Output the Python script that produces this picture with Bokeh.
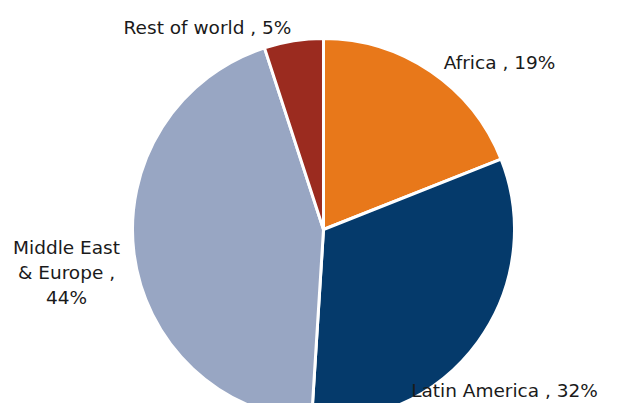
import math
from bokeh.plotting import figure
from bokeh.models import ColumnDataSource, Range1d
from bokeh.core.properties import value
from bokeh.embed import file_html
from bokeh.resources import INLINE

regions = ["Africa", "Latin America", "Middle East & Europe", "Rest of world"]
shares = [19, 32, 44, 5]
colors = ["#E8781A", "#053A6B", "#98A6C3", "#9B2B1F"]
label_texts = ["Africa , 19%", "Latin America , 32%", "Middle East\n& Europe ,\n44%", "Rest of world , 5%"]

W, H = 603, 403
cx, cy, r = 323, H - 229, 191

total = sum(shares)
starts, ends = [], []
a = math.pi / 2
for s in shares:
    e = a - 2 * math.pi * s / total
    starts.append(e)
    ends.append(a)
    a = e

src = ColumnDataSource(dict(region=regions, start=starts, end=ends, color=colors))

p = figure(width=W, height=H, output_backend="svg", toolbar_location=None,
           x_range=Range1d(0, W), y_range=Range1d(0, H), min_border=0)
p.axis.visible = False
p.grid.visible = False
p.outline_line_color = None
p.background_fill_color = "white"

p.wedge(x=cx, y=cy, radius=r, start_angle="start", end_angle="end",
        fill_color="color", line_color="white", line_width=3, source=src)

# label positions (figure pixels, y from bottom)
lx = [499, 504, 66, 207]
ly = [H - 62, H - 390, H - 272, H - 27]
lsrc = ColumnDataSource(dict(x=lx, y=ly, t=label_texts))
p.text(x="x", y="y", text="t", text_align="center", text_baseline="middle",
       text_font=value("DejaVu Sans"), text_font_size="18.5px", text_color="#1a1a1a",
       text_line_height=1.2, source=lsrc)

open("out.html", "w").write(file_html(p, INLINE))
